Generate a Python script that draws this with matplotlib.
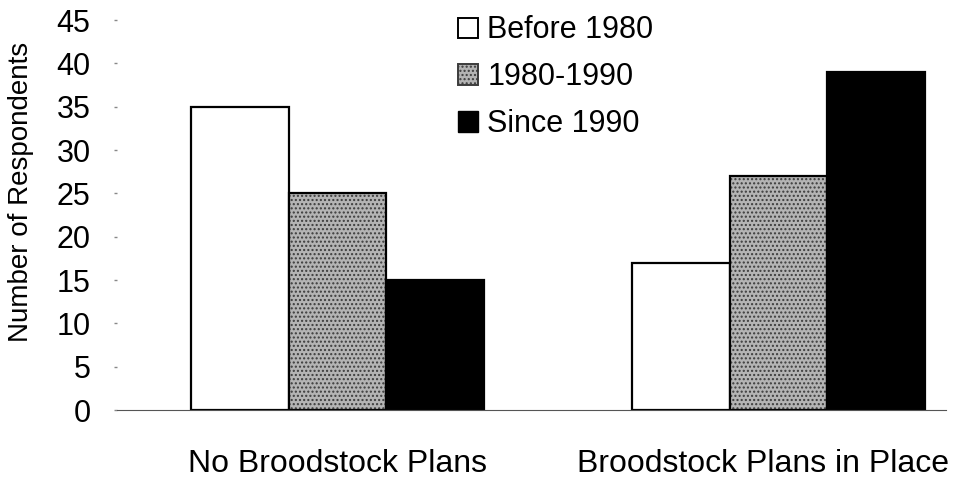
import numpy as np
import matplotlib.pyplot as plt
from matplotlib.patches import Patch
from matplotlib.transforms import ScaledTranslation

plt.rcParams['font.family'] = ['Liberation Sans', 'DejaVu Sans']

# Chart data
categories = ['No Broodstock Plans', 'Broodstock Plans in Place']
series_names = ['Before 1980', '1980-1990', 'Since 1990']
before_1980 = [35, 17]
from_1980_1990 = [25, 27]
since_1990 = [15, 39]
y_ticks = [0, 5, 10, 15, 20, 25, 30, 35, 40, 45]

fig = plt.figure(figsize=(9.59, 4.79), dpi=100)
ax = fig.add_axes([0.122, 0.144, 0.864, 0.814])

x = np.arange(len(categories))
width = 0.222

# white bars
ax.bar(x - width, before_1980, width, facecolor='white', edgecolor='black', linewidth=1.6)
# stippled gray bars: hatch layer then black outline
ax.bar(x, from_1980_1990, width, facecolor='#b4b4b4', edgecolor='#3c3c3c', hatch='....',
       linewidth=0)
ax.bar(x, from_1980_1990, width, facecolor='none', edgecolor='black', linewidth=1.6)
# black bars
ax.bar(x + width, since_1990, width, facecolor='black', edgecolor='black', linewidth=1.6)

handles = [
    Patch(facecolor='white', edgecolor='black', linewidth=1.4),
    Patch(facecolor='#b4b4b4', edgecolor='#3c3c3c', hatch='....', linewidth=1.4),
    Patch(facecolor='black', edgecolor='black'),
]
ax.legend(handles, series_names, loc='upper left', bbox_to_anchor=(0.412, 1.012),
          frameon=False, fontsize=22, handlelength=0.65, handleheight=0.65,
          handletextpad=0.3, labelspacing=0.55, borderpad=0, borderaxespad=0)

ax.set_xlim(-0.5, 1.379)
ax.set_ylim(0, 45)
ax.set_yticks(y_ticks)
ax.set_yticklabels([str(t) for t in y_ticks], fontsize=22)
ax.set_xticks(x)
ax.set_xticklabels(categories, fontsize=23)
ax.tick_params(axis='x', length=0, pad=28)
ax.tick_params(axis='y', length=2, width=1, color='#888888', pad=17)

# right category label sits a little left of its group in the original
lab = ax.get_xticklabels()[1]
lab.set_transform(lab.get_transform() + ScaledTranslation(-0.15, 0, fig.dpi_scale_trans))

for side in ['top', 'right', 'left']:
    ax.spines[side].set_visible(False)
ax.spines['bottom'].set_color('#555555')
ax.spines['bottom'].set_linewidth(0.8)

ax.set_ylabel('Number of Respondents', fontsize=20)
ax.yaxis.set_label_coords(-0.1, 0.56)

fig.savefig('out.png', dpi=100)
